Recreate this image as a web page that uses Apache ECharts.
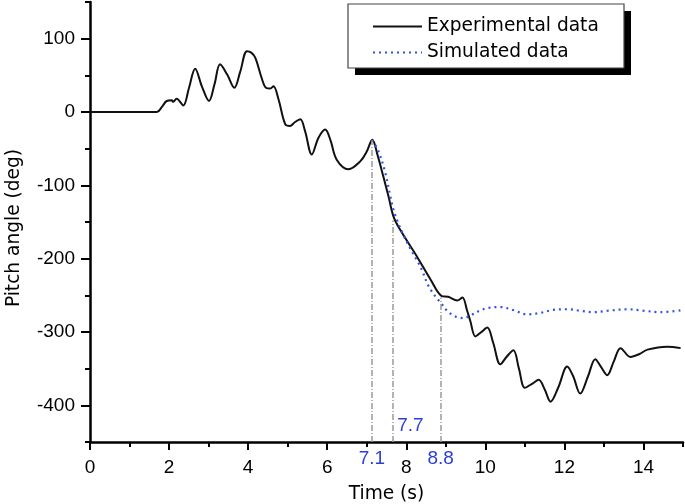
<!DOCTYPE html>
<html>
<head>
<meta charset="utf-8">
<script src="https://cdn.jsdelivr.net/npm/echarts@6/dist/echarts.min.js"></script>
<style>html,body{margin:0;padding:0;background:#fff}#c{width:685px;height:504px}</style>
</head>
<body>
<div id="c"></div>
<script>
var expTime = [0, 1.69, 1.82, 1.94, 2.07, 2.1, 2.19, 2.36, 2.5, 2.66, 2.83, 3.01, 3.15, 3.29, 3.47, 3.65, 3.8, 3.97, 4.08, 4.18, 4.35, 4.45, 4.56, 4.64, 4.77, 4.94, 5.06, 5.18, 5.32, 5.44, 5.61, 5.78, 5.95, 6.08, 6.24, 6.54, 6.84, 7.0, 7.14, 7.28, 7.42, 7.55, 7.68, 7.85, 8.28, 8.61, 8.9, 9.06, 9.29, 9.42, 9.54, 9.62, 9.75, 9.9, 10.05, 10.2, 10.38, 10.55, 10.71, 10.85, 11.0, 11.2, 11.35, 11.5, 11.65, 11.85, 12.07, 12.22, 12.4, 12.6, 12.78, 12.93, 13.08, 13.25, 13.42, 13.67, 13.9, 14.1, 14.6, 14.94];
var expPitch = [0, 0, 7, 15, 16, 14, 18, 9, 32, 59, 35, 15, 38, 65, 51, 33, 55, 83, 81, 74, 45, 33, 32, 35, 17, -17, -19, -14, -10, -26, -58, -35, -24, -38, -65, -78, -67, -54, -38, -60, -88, -115, -143, -161, -198, -228, -251, -252, -257, -253, -271, -285, -306, -300, -294, -315, -344, -333, -325, -350, -376, -370, -365, -378, -395, -375, -347, -360, -384, -360, -337, -348, -359, -340, -322, -334, -330, -324, -320, -322];
var simTime = [7.14, 7.3, 7.47, 7.6, 7.68, 7.8, 7.93, 8.1, 8.3, 8.4, 8.56, 8.73, 8.9, 9.03, 9.15, 9.3, 9.45, 9.67, 9.85, 10.08, 10.38, 10.7, 11.06, 11.39, 11.7, 12.07, 12.4, 12.74, 13.1, 13.6, 14.0, 14.43, 14.99];
var simPitch = [-38, -54, -83, -116, -134, -152, -168, -186, -205, -216, -237, -251, -262, -271, -276, -280, -281, -276, -271, -267, -266, -270, -276, -274, -270, -269, -271, -273, -271, -269, -271, -273, -270];
var xMajorTicks = [0, 2, 4, 6, 8, 10, 12, 14];
var yMajorTicks = [-400, -300, -200, -100, 0, 100];
var markTimes = [7.13, 7.67, 8.87];
var markTops = [-39, -148, -253];
var markLabels = ['7.1', '7.7', '8.8'];
var seriesNames = ['Experimental data', 'Simulated data'];
var xTitle = 'Time (s)';
var yTitle = 'Pitch angle (deg)';

var WFONT = 'DejaVu Sans';
var NFONT = 'Liberation Sans';
var FS = 18.6;
var NFS = 19;
var BLUE = '#2b3fd6';
var INK = '#000';

function zip(a, b) { return a.map(function (v, i) { return [v, b[i]]; }); }

var xLabelValues = xMajorTicks.concat([markTimes[0], markTimes[2]]).sort(function (a, b) { return a - b; });

var chart = echarts.init(document.getElementById('c'), null, { renderer: 'canvas' });
chart.setOption({
  animation: false,
  backgroundColor: '#fff',
  grid: { left: 90, right: 2, top: 2, bottom: 62, containLabel: false, outerBoundsMode: 'none' },
  graphic: [
    { type: 'rect', z: 0, silent: true, shape: { x: 355, y: 11, width: 276, height: 64 }, style: { fill: '#000' } },
    { type: 'rect', z: 1, silent: true, shape: { x: 348, y: 4, width: 276, height: 64 }, style: { fill: '#fff', stroke: '#444', lineWidth: 1.2 } },
    { type: 'text', z: 5, silent: true, x: 14, y: 228, rotation: Math.PI / 2,
      style: { text: yTitle, font: FS + 'px "' + WFONT + '"', fill: INK, textAlign: 'center', textVerticalAlign: 'middle' } }
  ],
  legend: {
    orient: 'vertical', left: 348, top: 4, z: 10,
    padding: [13, 24, 8, 24], itemGap: 7, itemWidth: 49, itemHeight: 14,
    itemStyle: { opacity: 0 },
    textStyle: { fontFamily: WFONT, fontSize: FS, color: INK },
    data: seriesNames
  },
  xAxis: [{
    type: 'value', min: 0, max: 15, interval: 1,
    name: xTitle, nameLocation: 'middle', nameGap: 43,
    nameTextStyle: { fontFamily: WFONT, fontSize: FS, color: INK },
    axisLine: { show: true, onZero: false, lineStyle: { color: INK, width: 2.5 } },
    axisTick: { show: true, length: 5, lineStyle: { color: INK, width: 2 } },
    axisLabel: { show: false },
    splitLine: { show: false }
  }, {
    type: 'value', min: 0, max: 15, position: 'bottom',
    axisLine: { show: false, onZero: false },
    axisTick: { show: true, length: 8, customValues: xMajorTicks, lineStyle: { color: INK, width: 2 } },
    axisLabel: {
      show: true, margin: 16, customValues: xLabelValues,
      fontFamily: NFONT, fontSize: NFS, color: INK,
      formatter: function (v) {
        var i = markTimes.indexOf(v);
        return i >= 0 ? '{b|' + markLabels[i] + '}' : String(v);
      },
      rich: { b: { color: BLUE, fontFamily: NFONT, fontSize: NFS, lineHeight: 1 } }
    },
    splitLine: { show: false }
  }],
  yAxis: [{
    type: 'value', min: -450, max: 150, interval: 50,
    axisLine: { show: true, onZero: false, lineStyle: { color: INK, width: 2.5 } },
    axisTick: { show: true, length: 5, lineStyle: { color: INK, width: 2 } },
    axisLabel: { show: false },
    splitLine: { show: false }
  }, {
    type: 'value', min: -450, max: 150, position: 'left',
    axisLine: { show: false, onZero: false },
    axisTick: { show: true, length: 9, customValues: yMajorTicks, lineStyle: { color: INK, width: 2 } },
    axisLabel: { show: true, margin: 15, customValues: yMajorTicks, fontFamily: NFONT, fontSize: NFS, color: INK },
    splitLine: { show: false }
  }],
  series: [{
    name: seriesNames[0], type: 'line', xAxisIndex: 0, yAxisIndex: 0,
    data: zip(expTime, expPitch), smooth: 0.35, symbol: 'none',
    lineStyle: { color: '#111', width: 2 }, itemStyle: { color: '#111' },
    z: 3,
    markLine: {
      silent: true, symbol: 'none', animation: false,
      label: { show: false },
      lineStyle: { color: '#9a9a9a', width: 1.5, type: [6, 2, 1, 2] },
      data: markTimes.map(function (t, i) { return [{ coord: [t, -450] }, { coord: [t, markTops[i]] }]; })
    },
    markPoint: {
      silent: true, symbol: 'circle', symbolSize: 0,
      label: { show: true, position: 'right', distance: 4, color: BLUE, fontFamily: NFONT, fontSize: NFS, formatter: markLabels[1] },
      data: [{ coord: [markTimes[1], -428] }]
    }
  }, {
    name: seriesNames[1], type: 'line', xAxisIndex: 0, yAxisIndex: 0,
    data: zip(simTime, simPitch), smooth: 0.35, symbol: 'none',
    lineStyle: { color: '#3050e8', width: 2.2, type: [2, 4] }, itemStyle: { color: '#3050e8' },
    z: 4
  }]
});
</script>
</body>
</html>
